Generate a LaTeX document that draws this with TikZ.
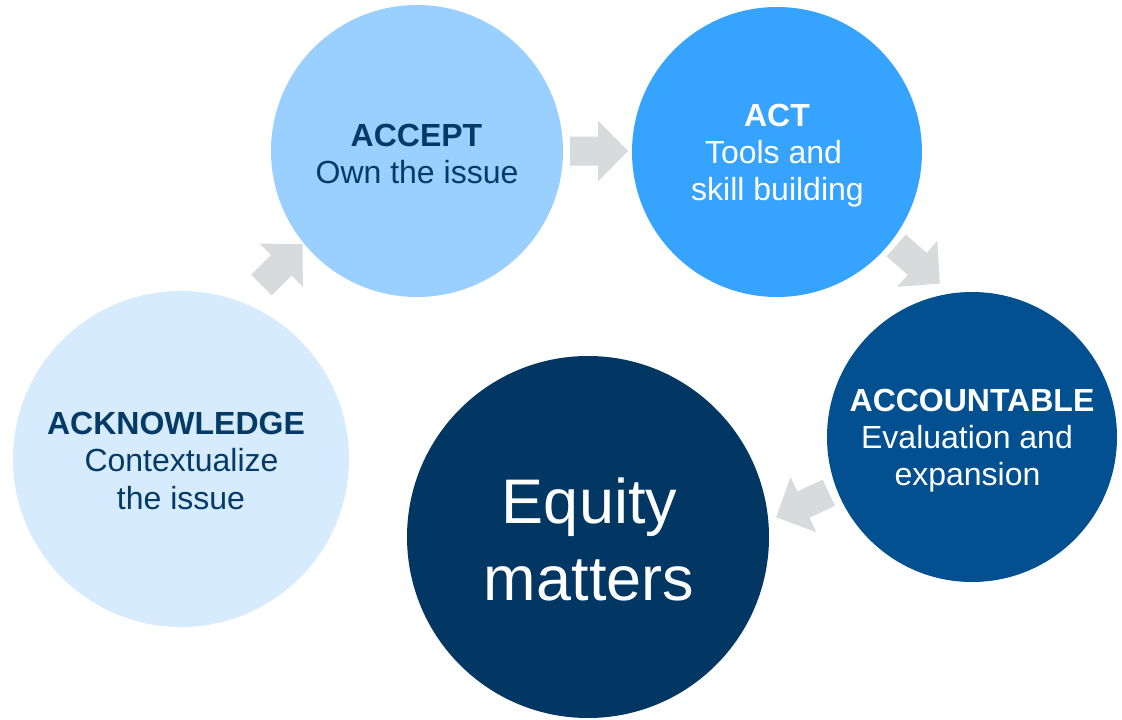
\documentclass[tikz,border=0pt]{standalone}
\usepackage{fontspec}
\setmainfont{Liberation Sans}
\definecolor{ackfill}{HTML}{D6EBFD}
\definecolor{accfill}{HTML}{99D0FF}
\definecolor{actfill}{HTML}{36A3FF}
\definecolor{accountfill}{HTML}{02508F}
\definecolor{equityfill}{HTML}{023764}
\definecolor{navytext}{HTML}{033A66}
\definecolor{arrowgray}{HTML}{D8DADB}
% gray block arrow, centred at #1 and pointing along angle #2
\newcommand\blockarrow[2]{%
  \begin{scope}[shift={#1}, rotate=#2]
    \fill[arrowgray] (-29,-14.5) -- (-1,-14.5) -- (-1,-30.5) -- (29,0)
      -- (-1,30.5) -- (-1,14.5) -- (-29,14.5) -- cycle;
  \end{scope}}
\begin{document}
\begin{tikzpicture}[x=1pt, y=-1pt,
  disc/.style={circle, inner sep=0pt, draw=none, minimum size=#1},
  lbl/.style={anchor=base, inner sep=0pt, font=\fontsize{32}{37.5}\selectfont},
  head/.style={lbl, font=\fontsize{32}{37.5}\selectfont\bfseries},
  big/.style={anchor=base, inner sep=0pt, text=white, font=\fontsize{63}{77}\selectfont}]
\useasboundingbox[fill=white] (0,0) rectangle (1122,720);

% the stage circles
\node[disc=336pt, fill=ackfill]     (ack)     at (181,459) {};
\node[disc=292pt, fill=accfill]     (accept)  at (417,151) {};
\node[disc=290pt, fill=actfill]     (act)     at (777,152) {};
\node[disc=290pt, fill=accountfill] (account) at (972,437) {};
\node[disc=362pt, fill=equityfill]  (equity)  at (588,537) {};

% arrows between the stages
\blockarrow{(282,264.5)}{45}
\blockarrow{(599,151)}{0}
\blockarrow{(918,264.5)}{-41}
\blockarrow{(802.5,505)}{205}

% ACKNOWLEDGE
\node[head, text=navytext] (ackA) at (176,434) {ACKNOWLEDGE};
\node[lbl,  text=navytext] (ackB) at (181.5,471) {Contextualize};
\node[lbl,  text=navytext] (ackC) at (181,509) {the issue};

% ACCEPT
\node[head, text=navytext] (accA) at (416.5,146) {ACCEPT};
\node[lbl,  text=navytext] (accB) at (417,183) {Own the issue};

% ACT
\node[head, text=white] (actA) at (777,126) {ACT};
\node[lbl,  text=white] (actB) at (773.5,163) {Tools and};
\node[lbl,  text=white] (actC) at (777.5,200) {skill building};

% ACCOUNTABLE
\node[head, text=white] (accountA) at (972,411) {ACCOUNTABLE};
\node[lbl,  text=white] (accountB) at (967,448) {Evaluation and};
\node[lbl,  text=white] (accountC) at (967.5,485) {expansion};

% centre
\node[big] (eqA) at (589.5,523) {Equity};
\node[big] (eqB) at (589,600) {matters};
\end{tikzpicture}
\end{document}
